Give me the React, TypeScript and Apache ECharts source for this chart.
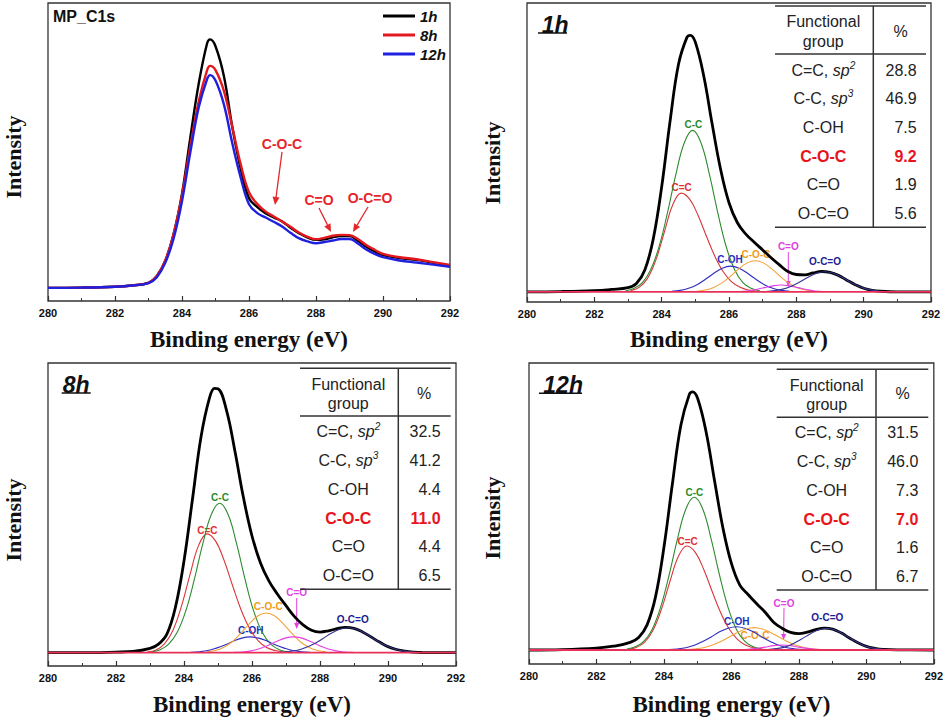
import React, { useEffect, useRef } from "react";
import * as echarts from "echarts";

// ---------- Panel 1 : overview MP_C1s ----------
const ovX = [280, 281, 282, 282.5, 283, 283.25, 283.5, 283.75, 284, 284.25, 284.5, 284.75, 284.84, 285, 285.25, 285.5, 285.75, 286, 286.25, 286.5, 286.75, 287, 287.25, 287.5, 287.75, 288, 288.25, 288.5, 288.75, 289, 289.25, 289.5, 289.75, 290, 290.5, 291, 291.5, 292];
const ov1h = [4.4, 4.5, 4.8, 5.2, 6.1, 8.4, 13.5, 22.5, 36, 55, 73, 86.5, 87.8, 85.5, 75.5, 58.5, 44.5, 34.5, 31.5, 29.4, 28.0, 26.6, 24.5, 22.7, 21.3, 20.5, 20.7, 21.4, 21.8, 21.8, 20.2, 18.2, 16.6, 15.4, 14.4, 13.8, 12.8, 11.7];
const ov8h = [4.4, 4.5, 4.8, 5.2, 6.1, 8.4, 13.5, 22.5, 35.5, 52, 67, 77.5, 78.9, 77.5, 70.5, 58.5, 46, 36.5, 32.5, 30.0, 28.3, 26.6, 24.8, 22.9, 21.5, 20.7, 21.2, 21.9, 22.2, 22.1, 20.8, 18.8, 17.2, 15.8, 14.7, 14.0, 13.0, 12.1];
const ov12h = [4.4, 4.5, 4.8, 5.2, 6.0, 8.0, 12.8, 21.0, 33.5, 50, 65, 74.5, 75.8, 74, 66, 53, 41.5, 32.5, 29.5, 28.0, 26.5, 24.9, 22.8, 21.0, 20.0, 19.4, 19.8, 20.3, 20.8, 20.8, 19.3, 17.3, 15.8, 14.7, 13.6, 12.9, 12.2, 11.5];

// ---------- Fit envelopes ----------
const env1hX = [280, 281, 282, 282.5, 283, 283.25, 283.5, 283.75, 284, 284.25, 284.5, 284.75, 284.85, 285, 285.25, 285.5, 285.75, 286, 286.25, 286.5, 286.75, 287, 287.25, 287.5, 287.75, 288, 288.25, 288.5, 288.75, 289, 289.25, 289.5, 289.75, 290, 290.25, 290.5, 291, 292];
const env1hY = [3.4, 3.5, 3.8, 4.2, 4.8, 6.2, 10.7, 21.1, 38.5, 60.5, 79.5, 88.5, 89.2, 86.9, 75.6, 59.5, 44.4, 33.2, 26.5, 22.7, 20.0, 17.4, 14.8, 12.4, 10.2, 9.2, 9.1, 9.7, 10.2, 9.9, 8.9, 7.3, 5.8, 4.6, 3.9, 3.6, 3.4, 3.4];
const env8hX = [280, 281, 282, 282.5, 283, 283.25, 283.5, 283.75, 284, 284.25, 284.5, 284.75, 284.9, 285, 285.25, 285.5, 285.75, 286, 286.25, 286.5, 286.75, 287, 287.25, 287.5, 287.75, 288, 288.25, 288.5, 288.75, 289, 289.25, 289.5, 289.75, 290, 290.25, 290.5, 290.75, 291, 292];
const env8hY = [4.4, 4.4, 4.6, 4.8, 5.8, 7.2, 10.6, 19.5, 34.7, 55.1, 75.6, 88.5, 91.6, 91.5, 84.4, 70.8, 55.5, 42.9, 34.0, 28.0, 23.7, 19.9, 16.3, 13.6, 11.8, 11.2, 11.6, 12.3, 12.75, 12.4, 11.25, 9.6, 7.9, 6.4, 5.45, 4.9, 4.6, 4.45, 4.4];
const env12hX = [280, 281, 282, 282.5, 283, 283.25, 283.5, 283.75, 284, 284.25, 284.5, 284.75, 284.85, 285, 285.25, 285.5, 285.75, 286, 286.25, 286.5, 286.75, 287, 287.25, 287.5, 287.75, 288, 288.25, 288.5, 288.75, 289, 289.25, 289.5, 289.75, 290, 290.25, 290.5, 291, 292];
const env12hY = [4.65, 4.8, 5.3, 5.9, 7.2, 8.8, 13.0, 22.3, 38.8, 59.8, 79.2, 89.5, 90.4, 88.2, 77.1, 60.9, 45.1, 33.4, 26.2, 23.0, 20.0, 17.2, 13.9, 11.9, 10.5, 10.1, 10.6, 11.45, 11.95, 11.6, 10.35, 8.65, 7.05, 5.85, 5.2, 4.85, 4.7, 4.65];

// ---------- Fit components : 1h ----------
const cc1hX = [282.92, 283.17, 283.42, 283.67, 283.92, 284.17, 284.42, 284.67, 284.92, 285.17, 285.42, 285.67, 285.92, 286.17, 286.42, 286.67, 286.92];
const cc1hY = [3.7, 4.5, 6.4, 10.7, 18.4, 29.7, 42.6, 53.2, 57.4, 53.2, 42.6, 29.7, 18.4, 10.7, 6.4, 4.5, 3.7];
const cec1hX = [283.08, 283.33, 283.58, 283.83, 284.08, 284.33, 284.58, 284.83, 285.08, 285.33, 285.58, 285.83, 286.08, 286.33, 286.58, 286.83, 287.08];
const cec1hY = [3.8, 4.9, 7.9, 14.1, 23.4, 32.5, 36.4, 34.4, 29.0, 22.0, 15.3, 10.1, 6.7, 4.9, 4.0, 3.6, 3.4];
const coh1hX = [284.3, 284.55, 284.8, 285.05, 285.3, 285.55, 285.8, 286.05, 286.3, 286.55, 286.8, 287.05, 287.3, 287.55, 287.8];
const coh1hY = [3.6, 3.9, 4.6, 5.8, 7.6, 9.6, 11.3, 12.0, 11.3, 9.6, 7.6, 5.8, 4.6, 3.9, 3.6];
const coc1hX = [285.03, 285.28, 285.53, 285.78, 286.03, 286.28, 286.53, 286.78, 287.03, 287.28, 287.53, 287.78, 288.03, 288.28, 288.53];
const coc1hY = [3.6, 4.0, 4.8, 6.3, 8.5, 11.0, 13.0, 13.8, 13.0, 11.0, 8.5, 6.3, 4.8, 4.0, 3.6];
const co1hX = [286.3, 286.55, 286.8, 287.05, 287.3, 287.55, 287.8, 288.05, 288.3, 288.55, 288.8];
const co1hY = [3.5, 3.7, 4.2, 4.8, 5.4, 5.7, 5.4, 4.8, 4.2, 3.7, 3.5];
const oco1hX = [287.1, 287.35, 287.6, 287.85, 288.1, 288.35, 288.6, 288.85, 289.1, 289.35, 289.6, 289.85, 290.1, 290.35, 290.6];
const oco1hY = [3.5, 3.8, 4.3, 5.3, 6.7, 8.3, 9.6, 10.1, 9.6, 8.3, 6.7, 5.3, 4.3, 3.8, 3.5];
const base1h = 3.4;

// ---------- Fit components : 8h ----------
const cc8hX = [283.05, 283.3, 283.55, 283.8, 284.05, 284.3, 284.55, 284.8, 285.05, 285.3, 285.55, 285.8, 286.05, 286.3, 286.55, 286.8, 287.05];
const cc8hY = [4.7, 5.4, 7.2, 11.1, 18.1, 28.4, 40.2, 49.9, 53.7, 49.9, 40.2, 28.4, 18.1, 11.1, 7.2, 5.4, 4.7];
const cec8hX = [282.93, 283.18, 283.43, 283.68, 283.93, 284.18, 284.43, 284.68, 284.93, 285.18, 285.43, 285.68, 285.93, 286.18, 286.43, 286.68, 286.93, 287.18];
const cec8hY = [4.65, 5.3, 7.4, 11.9, 19.9, 30.3, 39.8, 43.6, 41.2, 34.8, 26.5, 18.5, 12.4, 8.4, 6.1, 5.1, 4.6, 4.4];
const coh8hX = [284.2, 284.45, 284.7, 284.95, 285.2, 285.45, 285.7, 285.95, 286.2, 286.45, 286.7, 286.95, 287.2, 287.45, 287.7];
const coh8hY = [4.5, 4.7, 5.1, 5.9, 6.9, 8.2, 9.2, 9.6, 9.2, 8.2, 6.9, 5.9, 5.1, 4.7, 4.5];
const coc8hX = [284.67, 284.92, 285.17, 285.42, 285.67, 285.92, 286.17, 286.42, 286.67, 286.92, 287.17, 287.42, 287.67, 287.92, 288.17];
const coc8hY = [4.7, 5.1, 6.2, 8.0, 10.8, 13.9, 16.5, 17.5, 16.5, 13.9, 10.8, 8.0, 6.2, 5.1, 4.7];
const co8hX = [285.47, 285.72, 285.97, 286.22, 286.47, 286.72, 286.97, 287.22, 287.47, 287.72, 287.97, 288.22, 288.47, 288.72, 288.97];
const co8hY = [4.5, 4.6, 5.0, 5.7, 6.8, 8.1, 9.2, 9.6, 9.2, 8.1, 6.8, 5.7, 5.0, 4.6, 4.5];
const oco8hX = [286.83, 287.08, 287.33, 287.58, 287.83, 288.08, 288.33, 288.58, 288.83, 289.08, 289.33, 289.58, 289.83, 290.08, 290.33, 290.58, 290.83];
const oco8hY = [4.5, 4.8, 5.2, 6.1, 7.35, 9.0, 10.8, 12.1, 12.6, 12.1, 10.8, 9.0, 7.35, 6.1, 5.2, 4.8, 4.5];
const base8h = 4.4;

// ---------- Fit components : 12h ----------
const cc12hX = [282.9, 283.15, 283.4, 283.65, 283.9, 284.15, 284.4, 284.65, 284.9, 285.15, 285.4, 285.65, 285.9, 286.15, 286.4, 286.65, 286.9];
const cc12hY = [5.0, 5.7, 7.5, 11.5, 18.8, 29.4, 41.5, 51.5, 55.4, 51.5, 41.5, 29.4, 18.8, 11.5, 7.5, 5.7, 5.0];
const cec12hX = [282.93, 283.18, 283.43, 283.68, 283.93, 284.18, 284.43, 284.68, 284.93, 285.18, 285.43, 285.68, 285.93, 286.18, 286.43, 286.68, 286.93, 287.18];
const cec12hY = [4.9, 5.5, 7.3, 11.3, 18.3, 27.5, 35.8, 39.2, 37.1, 31.4, 24.1, 17.1, 11.7, 8.2, 6.2, 5.3, 4.9, 4.7];
const coh12hX = [284.15, 284.4, 284.65, 284.9, 285.15, 285.4, 285.65, 285.9, 286.15, 286.4, 286.65, 286.9, 287.15, 287.4, 287.65, 287.9, 288.15];
const coh12hY = [4.8, 5.0, 5.4, 6.2, 7.5, 9.0, 10.7, 11.9, 12.4, 11.9, 10.7, 9.0, 7.5, 6.2, 5.4, 5.0, 4.8];
const coc12hX = [284.67, 284.92, 285.17, 285.42, 285.67, 285.92, 286.17, 286.42, 286.67, 286.92, 287.17, 287.42, 287.67, 287.92, 288.17, 288.42, 288.67];
const coc12hY = [4.8, 5.0, 5.4, 6.2, 7.4, 8.9, 10.4, 11.6, 12.1, 11.6, 10.4, 8.9, 7.4, 6.2, 5.4, 5.0, 4.8];
const co12hX = [286.25, 286.5, 286.75, 287.0, 287.25, 287.5, 287.75, 288.0, 288.25, 288.5, 288.75];
const co12hY = [4.7, 4.9, 5.2, 5.6, 6.1, 6.3, 6.1, 5.6, 5.2, 4.9, 4.7];
const oco12hX = [287.07, 287.32, 287.57, 287.82, 288.07, 288.32, 288.57, 288.82, 289.07, 289.32, 289.57, 289.82, 290.07, 290.32, 290.57];
const oco12hY = [4.8, 5.1, 5.6, 6.7, 8.2, 9.9, 11.3, 11.9, 11.3, 9.9, 8.2, 6.7, 5.6, 5.1, 4.8];
const base12h = 4.65;

// ---------- Tables ----------
const groupLabels = ["{n|C=C, }{i|sp}{s|2}", "{n|C-C, }{i|sp}{s|3}", "{n|C-OH}", "{r|C-O-C}", "{n|C=O}", "{n|O-C=O}"];
const pct1h = ["28.8", "46.9", "7.5", "9.2", "1.9", "5.6"];
const pct8h = ["32.5", "41.2", "4.4", "11.0", "4.4", "6.5"];
const pct12h = ["31.5", "46.0", "7.3", "7.0", "1.6", "6.7"];
const HIGHLIGHT_ROW = 3;

const COL = {
  cc: "#2e8b2e", cec: "#d9363a", coh: "#2d2dbf", coc: "#f2a33a", co: "#e23fe2", oco: "#34348f", base: "#e8305a",
};
const RED = "#e5262b";

const zip = (xs: number[], ys: number[]) => xs.map((x, i) => [x, ys[i]]);

const grids = [
  { left: 48, top: 3, width: 402, height: 298 },
  { left: 527, top: 3, width: 404, height: 299 },
  { left: 48, top: 363, width: 408, height: 303 },
  { left: 529, top: 363, width: 405, height: 301 },
];

function lineSeries(name: string, idx: number, data: number[][], color: string, width: number, z = 2, extra: any = {}) {
  return {
    name, type: "line", xAxisIndex: idx, yAxisIndex: idx, data, smooth: 0.4,
    showSymbol: false, symbol: "none", silent: true, z,
    lineStyle: { color, width }, itemStyle: { color }, ...extra,
  };
}

function fitSeries(idx: number, tag: string, envX: number[], envY: number[], comps: [number[], number[], string][], base: number) {
  const out: any[] = [lineSeries("envelope " + tag, idx, zip(envX, envY), "#000", 2.8, 2)];
  const names = ["C=C", "C-C", "C-OH", "C-O-C", "C=O", "O-C=O"];
  comps.forEach(([xs, ys, c], i) => out.push(lineSeries(names[i] + " " + tag, idx, zip(xs, ys), c, 1.1, 3)));
  out.push(lineSeries("baseline " + tag, idx, [[280, base], [292, base]], COL.base, 1.8, 4));
  return out;
}

function arrow(x1: number, y1: number, x2: number, y2: number, color: string, lw = 1.3, hl = 8, hw = 3.5) {
  const dx = x2 - x1, dy = y2 - y1, L = Math.hypot(dx, dy);
  const ux = dx / L, uy = dy / L;
  const bx = x2 - ux * hl, by = y2 - uy * hl;
  const px = -uy, py = ux;
  return [
    { type: "line", shape: { x1, y1, x2: bx, y2: by }, style: { stroke: color, lineWidth: lw } },
    { type: "polygon", shape: { points: [[x2, y2], [bx + px * hw, by + py * hw], [bx - px * hw, by - py * hw]] }, style: { fill: color } },
  ];
}

function txt(x: number, y: number, text: string, font: string, fill: string, align = "center", extra: any = {}) {
  return { type: "text", x, y, style: { text, font, fill, align, verticalAlign: "middle" }, ...extra };
}

const TFONT = '"Liberation Sans", Arial, sans-serif';
const richTokens = {
  n: { fontSize: 16, fontFamily: TFONT, fill: "#222", lineHeight: 20 },
  i: { fontSize: 16, fontFamily: TFONT, fontStyle: "italic", fill: "#222", lineHeight: 20 },
  s: { fontSize: 10, fontFamily: TFONT, fontStyle: "italic", fill: "#222", lineHeight: 12, verticalAlign: "top" },
  r: { fontSize: 16, fontFamily: TFONT, fontWeight: "bold", fill: "#e8141c", lineHeight: 20 },
};

function table(t: any, vals: string[]) {
  const els: any[] = [];
  const ln = (x1: number, y1: number, x2: number, y2: number) =>
    ({ type: "line", shape: { x1, y1, x2, y2 }, style: { stroke: "#333", lineWidth: 1.5 } });
  els.push(ln(t.x0, t.yTop, t.x1, t.yTop), ln(t.x0, t.yHead, t.x1, t.yHead), ln(t.x0, t.yBot, t.x1, t.yBot), ln(t.xv, t.yTop, t.xv, t.yBot));
  els.push(txt(t.cx, t.fy, "Functional", `16px ${TFONT}`, "#222"));
  els.push(txt(t.cx, t.gy, "group", `16px ${TFONT}`, "#222"));
  els.push(txt(t.px, t.py, "%", `16px ${TFONT}`, "#222"));
  t.rows.forEach((ry: number, i: number) => {
    els.push({ type: "text", x: t.cx, y: ry, style: { text: groupLabels[i], rich: richTokens, align: "center", verticalAlign: "middle" } });
    const hl = i === HIGHLIGHT_ROW;
    els.push(txt(t.vx, ry, vals[i], `${hl ? "bold " : ""}16px ${TFONT}`, hl ? "#e8141c" : "#222", "right"));
  });
  return els;
}

function compLabels(p: number[][]) {
  const cols = ["#2a8a2a", "#e03030", "#2030c0", "#f09a20", "#e040e0", "#202090"];
  const names = ["C-C", "C=C", "C-OH", "C-O-C", "C=O", "O-C=O"];
  return p.map((xy, i) => txt(xy[0], xy[1], names[i], `bold 10px ${TFONT}`, cols[i]));
}

function sampleTitle(x: number, y: number, text: string, u1: number, u2: number, uy: number) {
  return [
    txt(x, y, text, `italic bold 23px ${TFONT}`, "#111", "left"),
    { type: "line", shape: { x1: u1, y1: uy, x2: u2, y2: uy }, style: { stroke: "#111", lineWidth: 1.5 } },
  ];
}

export default function App() {
  const ref = useRef<HTMLDivElement>(null);
  useEffect(() => {
    document.body.style.margin = "0";
    if (!ref.current) return;
    const chart = echarts.init(ref.current, undefined, { renderer: "svg" });

    const xAxes = grids.map((_, i) => ({
      type: "value", gridIndex: i, min: 280, max: 292, interval: 2,
      axisLine: { show: false },
      axisTick: { show: true, inside: true, length: 5, lineStyle: { color: "#333", width: 1.2 } },
      minorTick: { show: true, splitNumber: 2, length: 3, lineStyle: { color: "#333", width: 1 } },
      splitLine: { show: false }, minorSplitLine: { show: false },
      axisLabel: { fontSize: 11, fontWeight: "bold", fontFamily: TFONT, color: "#111", margin: 6 },
    }));
    const yAxes = grids.map((_, i) => ({ type: "value", gridIndex: i, min: 0, max: 100, show: false }));

    const series: any[] = [
      lineSeries("1h", 0, zip(ovX, ov1h), "#000", 2.4, 2),
      lineSeries("8h", 0, zip(ovX, ov8h), "#e3191f", 2.4, 3),
      lineSeries("12h", 0, zip(ovX, ov12h), "#1f1fe0", 2.4, 4),
      ...fitSeries(1, "1h", env1hX, env1hY, [[cec1hX, cec1hY, COL.cec], [cc1hX, cc1hY, COL.cc], [coh1hX, coh1hY, COL.coh], [coc1hX, coc1hY, COL.coc], [co1hX, co1hY, COL.co], [oco1hX, oco1hY, COL.oco]], base1h),
      ...fitSeries(2, "8h", env8hX, env8hY, [[cec8hX, cec8hY, COL.cec], [cc8hX, cc8hY, COL.cc], [coh8hX, coh8hY, COL.coh], [coc8hX, coc8hY, COL.coc], [co8hX, co8hY, COL.co], [oco8hX, oco8hY, COL.oco]], base8h),
      ...fitSeries(3, "12h", env12hX, env12hY, [[cec12hX, cec12hY, COL.cec], [cc12hX, cc12hY, COL.cc], [coh12hX, coh12hY, COL.coh], [coc12hX, coc12hY, COL.coc], [co12hX, co12hY, COL.co], [oco12hX, oco12hY, COL.oco]], base12h),
    ];

    const SERIF = '"Liberation Serif", "Times New Roman", serif';
    const graphic: any[] = [
      // axis titles
      txt(249, 339, "Binding energy (eV)", `bold 23px ${SERIF}`, "#111"),
      txt(729, 339, "Binding energy (eV)", `bold 23px ${SERIF}`, "#111"),
      txt(252, 704, "Binding energy (eV)", `bold 23px ${SERIF}`, "#111"),
      txt(731.5, 704, "Binding energy (eV)", `bold 23px ${SERIF}`, "#111"),
      txt(13, 157, "Intensity", `bold 22px ${SERIF}`, "#111", "center", { rotation: Math.PI / 2 }),
      txt(492, 163, "Intensity", `bold 22px ${SERIF}`, "#111", "center", { rotation: Math.PI / 2 }),
      txt(13, 520, "Intensity", `bold 22px ${SERIF}`, "#111", "center", { rotation: Math.PI / 2 }),
      txt(492, 518, "Intensity", `bold 22px ${SERIF}`, "#111", "center", { rotation: Math.PI / 2 }),
      // panel 1 annotations
      txt(53, 16, "MP_C1s", `bold 16px ${TFONT}`, "#111", "left"),
      txt(282, 144, "C-O-C", `bold 14px ${TFONT}`, RED),
      txt(319, 200, "C=O", `bold 14px ${TFONT}`, RED),
      txt(370, 198, "O-C=O", `bold 14px ${TFONT}`, RED),
      ...arrow(282, 152, 275, 205, RED),
      ...arrow(319, 208, 331, 232, RED),
      ...arrow(368, 207, 353, 232, RED),
      // sample titles
      ...sampleTitle(541.7, 25, "1h", 538, 567, 33),
      ...sampleTitle(62.7, 385, "8h", 61.7, 90.7, 393),
      ...sampleTitle(543.3, 385, "12h", 539, 582, 393.3),
      // component labels
      ...compLabels([[693.3, 124.3], [681.7, 187.3], [730, 259], [756, 254], [788.3, 246], [825, 261.7]]),
      ...compLabels([[220, 497.3], [207.3, 530.7], [250.7, 630.7], [268.3, 606.7], [296.7, 592.7], [352.7, 619.3]]),
      ...compLabels([[694.3, 492.7], [687.7, 541], [736.7, 621.7], [755, 635], [784, 603.3], [827.3, 617.7]]),
      ...arrow(788.3, 252, 788.3, 287, COL.co, 1, 6, 2.5),
      ...arrow(296.7, 598, 296.7, 629, COL.co, 1, 6, 2.5),
      ...arrow(784, 608, 783.6, 640, COL.co, 1, 6, 2.5),
      // tables
      ...table({ x0: 775, x1: 926, xv: 873.3, yTop: 6, yHead: 54, yBot: 227.3, cx: 823.3, fy: 21.7, gy: 41.7, px: 900.7, py: 31.7, vx: 916.7, rows: [70, 98.3, 127.3, 156, 184.3, 213.3] }, pct1h),
      ...table({ x0: 300, x1: 450.7, xv: 398.3, yTop: 368.3, yHead: 416, yBot: 589.3, cx: 348.3, fy: 384, gy: 403.3, px: 424, py: 393.3, vx: 440.7, rows: [431.7, 460.7, 489.3, 518.3, 546.7, 575.7] }, pct8h),
      ...table({ x0: 776.7, x1: 928.3, xv: 876, yTop: 369.3, yHead: 417.3, yBot: 590, cx: 826.7, fy: 385, gy: 404.3, px: 902.7, py: 393.3, vx: 918.3, rows: [432.7, 461, 490, 519, 547.7, 576.7] }, pct12h),
    ];

    chart.setOption({
      animation: false,
      backgroundColor: "#fff",
      grid: grids.map((g) => ({ ...g, show: true, borderColor: "#333", borderWidth: 1.3, backgroundColor: "transparent" })),
      xAxis: xAxes,
      yAxis: yAxes,
      legend: {
        data: ["1h", "8h", "12h"], left: 383, top: 7, orient: "vertical", padding: 0,
        itemWidth: 32, itemHeight: 3, itemGap: 1, icon: "rect", selectedMode: false,
        textStyle: { fontSize: 15, fontWeight: "bold", fontStyle: "italic", fontFamily: TFONT, color: "#111", lineHeight: 18 },
      },
      series,
      graphic,
    });
    return () => chart.dispose();
  }, []);
  return <div ref={ref} style={{ width: 946, height: 720 }} />;
}
